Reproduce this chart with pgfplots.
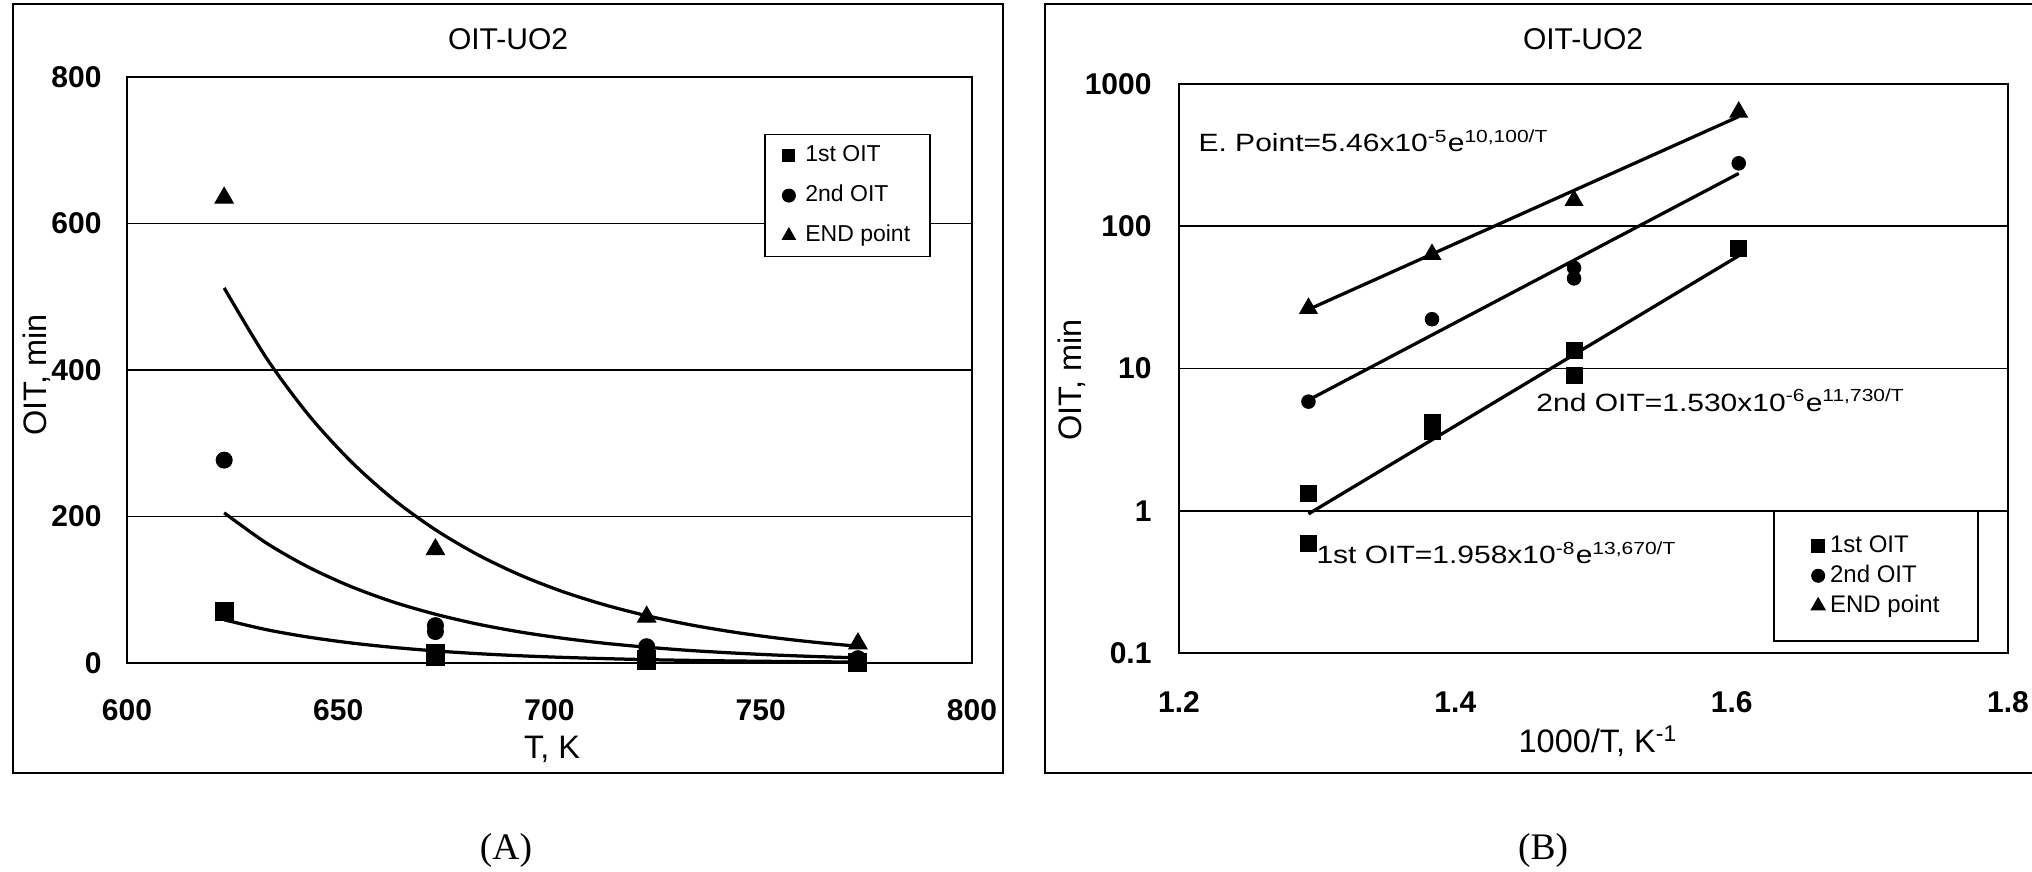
\documentclass[border=0pt]{standalone}
\usepackage{pgfplots}
\pgfplotsset{compat=1.18}
\usepackage{fontspec}
\setmainfont{Liberation Sans}
\newfontfamily\serif{Liberation Serif}
\newfontfamily\wfont[FakeStretch=1.2]{Liberation Sans}
\pgfplotsset{
  mm/.style={only marks, black, mark options={fill=black, draw=black, line width=0.4pt},
    legend image code/.code={\draw[##1,mark size=#1] plot coordinates {(0pt,0pt)};}},
  fitline/.style={black, line width=1.3pt, no markers, forget plot},
}
\begin{document}
\begin{tikzpicture}
\useasboundingbox (0,0) rectangle (812.8pt,348.4pt);
\fill[white] (0,0) rectangle (812.8pt,348.4pt);
\draw[line width=0.9pt] (5.2pt,39.2pt) rectangle (401.2pt,346.8pt);
\draw[line width=0.9pt] (418pt,39.2pt) rectangle (814pt,346.8pt);
\node[font=\fontsize{12}{14}\selectfont] at (203.2pt,332.8pt) {OIT-UO2};
\node[font=\fontsize{12}{14}\selectfont] at (633.2pt,332.8pt) {OIT-UO2};
\node[font=\serif\fontsize{15}{17}\selectfont] at (202.4pt,8.4pt) {(A)};
\node[font=\serif\fontsize{15}{17}\selectfont] at (617.2pt,8.4pt) {(B)};
\node[font=\fontsize{13}{15}\selectfont] at (220.8pt,48.8pt) {T, K};
\node[font=\fontsize{13}{15}\selectfont, rotate=90] at (14.8pt,198.4pt) {OIT, min};
\node[font=\fontsize{13}{15}\selectfont] at (639.2pt,52pt) {1000/T, K\textsuperscript{-1}};
\node[font=\fontsize{13}{15}\selectfont, rotate=90] at (428.8pt,196.4pt) {OIT, min};

\begin{axis}[
  at={(50.8pt,83.2pt)}, anchor=south west,
  width=338pt, height=234.4pt, scale only axis,
  xmin=600, xmax=800, ymin=0, ymax=800,
  xtick={600,650,700,750,800}, xticklabels={600,650,700,750,800},
  ytick={0,200,400,600,800}, yticklabels={0,200,400,600,800},
  major tick length=0pt,
  ymajorgrids, grid style={line width=0.6pt, black},
  axis line style={line width=0.9pt},
  tick label style={font=\fontsize{12}{14}\selectfont\bfseries, inner sep=0pt},
  x tick label style={anchor=north}, y tick label style={anchor=east},
  xticklabel shift=14.4pt, yticklabel shift=10pt,
  legend style={at={(0.754,0.903)}, anchor=north west, draw=black, line width=0.6pt,
    font=\fontsize{9.2}{10}\selectfont, inner xsep=7pt, inner ysep=2.9pt, row sep=5pt,
    nodes={inner sep=1pt, text height=7pt, text depth=2pt},
    /tikz/every odd column/.append style={column sep=3pt}},
  legend cell align=left,
]
\addplot[fitline, smooth] coordinates {(623,512) (633,416.3) (643,338.4) (653,275.2) (663,223.7) (673,181.9) (683,147.9) (693,120.2) (703,97.7) (713,79.5) (723,64.6) (733,52.5) (743,42.7) (753,34.7) (763,28.2) (773,22.9)};
\addplot[fitline, smooth] coordinates {(623,205) (633,163.7) (643,130.7) (653,104.4) (663,83.3) (673,66.6) (683,53.1) (693,42.4) (703,33.9) (713,27.0) (723,21.6) (733,17.2) (743,13.8) (753,11.0) (763,8.8) (773,7.0)};
\addplot[fitline, smooth] coordinates {(623,59) (633,45.5) (643,35.3) (653,27.4) (663,21.3) (673,16.5) (683,12.8) (693,9.9) (703,7.7) (713,6.0) (723,4.6) (733,3.6) (743,2.8) (753,2.2) (763,1.7) (773,1.3)};
\addplot[mm=2.4pt, mark=square*, mark size=3.6pt] coordinates {(623,70) (673,13.3) (673,8.9) (723,4.2) (723,3.6) (773,1.3) (773,0.6)};
\addlegendentry{1st OIT}
\addplot[mm=2.6pt, mark=*, mark size=3.2pt] coordinates {(623,277) (673,51) (673,43) (723,22.2) (773,5.9)};
\addlegendentry{2nd OIT}
\addplot[mm=3pt, mark=triangle*, mark size=4.2pt] coordinates {(623,635) (673,155) (723,63) (773,26.5)};
\addlegendentry{END point}
\end{axis}

\begin{axis}[
  at={(471.6pt,87.2pt)}, anchor=south west,
  width=331.6pt, height=227.6pt, scale only axis,
  ymode=log,
  xmin=1.2, xmax=1.8, ymin=0.1, ymax=1000,
  xtick={1.2,1.4,1.6,1.8}, xticklabels={1.2,1.4,1.6,1.8},
  ytick={0.1,1,10,100,1000}, yticklabels={0.1,1,10,100,1000},
  minor ytick={}, major tick length=0pt, minor tick length=0pt,
  ymajorgrids, grid style={line width=0.6pt, black},
  axis line style={line width=0.9pt},
  tick label style={font=\fontsize{12}{14}\selectfont\bfseries, inner sep=0pt},
  x tick label style={anchor=north}, y tick label style={anchor=east},
  xticklabel shift=15.2pt, yticklabel shift=10.8pt,
  legend style={at={(0.7165,0.2513)}, anchor=north west, draw=black, line width=0.6pt,
    font=\fontsize{9.6}{10}\selectfont, inner xsep=15pt, inner ysep=9pt, row sep=2pt,
    nodes={inner sep=0.5pt, text height=7pt, text depth=2pt},
    /tikz/every odd column/.append style={column sep=1.5pt}},
  legend cell align=left,
]
\addplot[fitline] coordinates {(1.2937,0.95) (1.6051,62)};
\addplot[fitline] coordinates {(1.2937,6.0) (1.6051,235)};
\addplot[fitline] coordinates {(1.2937,26) (1.6051,590)};
\addplot[mm=2.6pt, mark=square*, mark size=3.2pt] coordinates {(1.6051,70) (1.4859,13.3) (1.4859,8.9) (1.3831,4.2) (1.3831,3.6) (1.2937,1.32) (1.2937,0.59)};
\addlegendentry{1st OIT}
\addplot[mm=2.6pt, mark=*, mark size=2.7pt] coordinates {(1.6051,277) (1.4859,51) (1.4859,43) (1.3831,22.2) (1.2937,5.85)};
\addlegendentry{2nd OIT}
\addplot[mm=3.2pt, mark=triangle*, mark size=4pt] coordinates {(1.6051,635) (1.4859,152) (1.3831,63.4) (1.2937,26.5)};
\addlegendentry{END point}
\node[anchor=base west, font=\wfont\fontsize{10}{12}\selectfont, inner sep=0pt] at (rel axis cs:0.023,0.881) {E. Point=5.46x10\textsuperscript{-5}e\textsuperscript{10,100/T}};
\node[anchor=base west, font=\wfont\fontsize{10}{12}\selectfont, inner sep=0pt] at (rel axis cs:0.4306,0.4253) {2nd OIT=1.530x10\textsuperscript{-6}e\textsuperscript{11,730/T}};
\node[anchor=base west, font=\wfont\fontsize{10}{12}\selectfont, inner sep=0pt] at (rel axis cs:0.1653,0.158) {1st OIT=1.958x10\textsuperscript{-8}e\textsuperscript{13,670/T}};
\end{axis}
\end{tikzpicture}
\end{document}
